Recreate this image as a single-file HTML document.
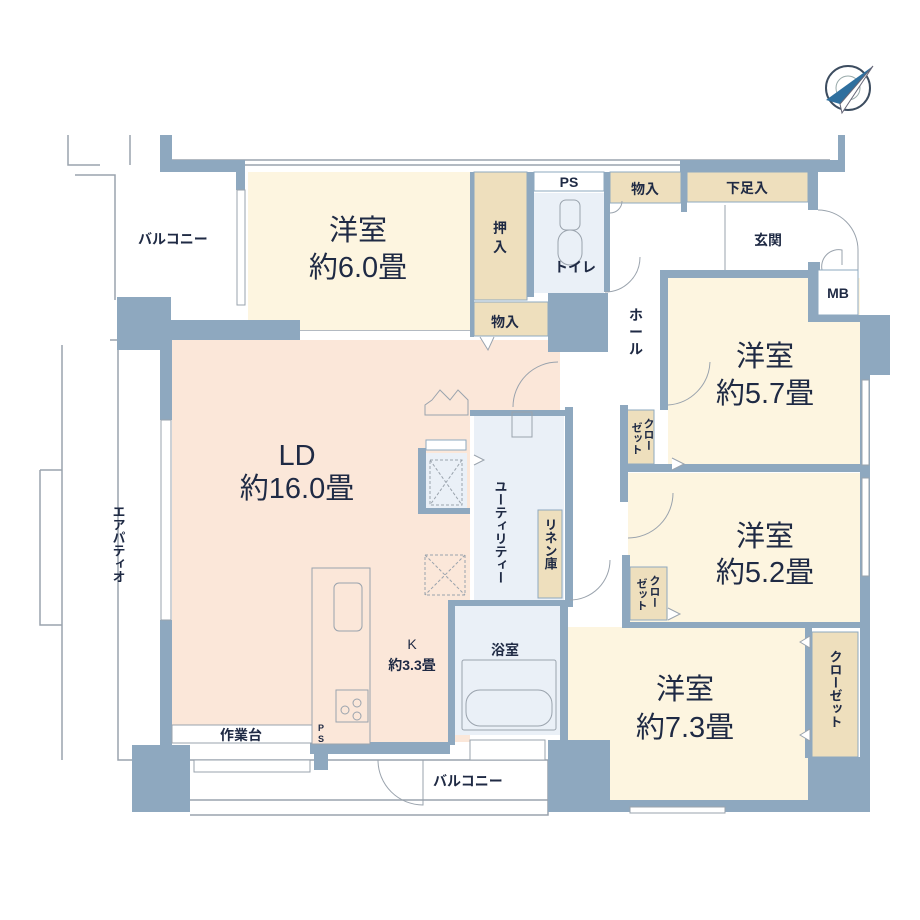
<!DOCTYPE html>
<html><head><meta charset="utf-8"><style>
html,body{margin:0;padding:0;background:#fff;width:920px;height:920px;overflow:hidden}
svg{display:block}
text{font-family:"Liberation Serif","Noto Serif CJK SC","Noto Sans CJK JP",serif;fill:#1f2a44}
.s{font-family:"Liberation Sans","Noto Sans CJK JP",sans-serif;font-size:14px;font-weight:bold}
.b{font-size:29px;font-family:"Liberation Sans","Noto Sans CJK JP",sans-serif}
</style></head><body>
<svg width="920" height="920" viewBox="0 0 920 920" xmlns="http://www.w3.org/2000/svg">
<g fill="none" stroke="#9aa3ad" stroke-width="1.5">
<path d="M68 135V165H100M130 135V165"/>
<path d="M75 175H115V300"/><path d="M110 340H160M118 340V760H160"/>
<path d="M40 470V625H62M40 470H62"/>
<path d="M62 345V760M172 160H830M172 165H830"/>
<path d="M190 760H548V815H190M190 800H548"/>
<path d="M248 330H470"/>
</g>
<rect x="248" y="172" width="222" height="158" fill="#fdf5e0"/>
<rect x="172" y="340" width="298" height="402" fill="#fbe7d9"/>
<rect x="470" y="340" width="90" height="75" fill="#fbe7d9"/>
<rect x="668" y="278" width="192" height="189" fill="#fdf5e0"/>
<rect x="628" y="473" width="232" height="152" fill="#fdf5e0"/>
<rect x="568" y="627" width="242" height="180" fill="#fdf5e0"/>
<rect x="474" y="415" width="90" height="185" fill="#eaf0f7"/>
<rect x="455" y="605" width="110" height="130" fill="#eaf0f7"/>
<rect x="534" y="193" width="70" height="100" fill="#eaf0f7"/>
<rect x="425" y="453" width="42" height="57" fill="#eaf0f7"/>
<g fill="#eedfbd" stroke="#8ea8bf" stroke-width="1">
<rect x="474" y="172" width="53" height="128"/>
<rect x="474" y="302" width="74" height="34"/>
<rect x="610" y="172" width="71" height="31"/>
<rect x="687" y="172" width="121" height="30"/>
<rect x="627" y="410" width="27" height="54"/>
<rect x="630" y="567" width="37" height="53"/>
<rect x="812" y="632" width="46" height="125"/>
<rect x="538" y="510" width="24" height="88"/>
</g>
<g fill="#8ea8bf">
<path d="M160 135H172V160H245V190H236V172H160Z"/>
<path d="M117 297H171V320H300V340H172V420H160V350H117Z"/>
<rect x="160" y="620" width="12" height="125"/>
<rect x="132" y="745" width="58" height="67"/>
<rect x="470" y="172" width="4" height="165"/>
<rect x="527" y="172" width="7" height="125"/>
<rect x="604" y="172" width="6" height="120"/>
<rect x="548" y="293" width="60" height="59"/>
<rect x="680" y="160" width="138" height="12"/>
<rect x="681" y="172" width="6" height="40"/>
<rect x="808" y="160" width="10" height="50"/>
<rect x="838" y="135" width="7" height="37"/><rect x="818" y="160" width="27" height="12"/>
<rect x="808" y="262" width="12" height="60"/>
<path d="M808 305H835V315H890V375H860V322H808Z"/>
<rect x="660" y="270" width="160" height="8"/>
<rect x="660" y="270" width="8" height="140"/>
<rect x="620" y="405" width="8" height="62"/>
<rect x="620" y="464" width="245" height="8"/>
<rect x="620" y="472" width="8" height="30"/>
<rect x="622" y="555" width="8" height="72"/>
<rect x="622" y="622" width="245" height="6"/>
<rect x="860" y="375" width="10" height="437"/>
<rect x="808" y="757" width="62" height="55"/>
<rect x="805" y="628" width="7" height="130"/>
<rect x="565" y="407" width="8" height="200"/>
<rect x="470" y="410" width="100" height="6"/>
<rect x="448" y="600" width="120" height="6"/>
<rect x="448" y="605" width="7" height="140"/>
<rect x="560" y="605" width="8" height="150"/>
<rect x="548" y="740" width="62" height="72"/>
<rect x="568" y="800" width="240" height="12"/>
<rect x="418" y="448" width="8" height="65"/>
<rect x="418" y="508" width="52" height="6"/>
<rect x="310" y="742" width="140" height="12"/>
<rect x="314" y="715" width="14" height="55"/>
</g>
<g fill="#fff" stroke="#9aa3ad" stroke-width="1">
<rect x="237" y="190" width="8" height="115"/>
<rect x="161" y="420" width="10" height="200"/>
<rect x="194" y="760" width="116" height="12"/>
<rect x="862" y="380" width="7" height="85"/>
<rect x="862" y="478" width="7" height="98"/>
<rect x="630" y="807" width="95" height="6"/>
<rect x="470" y="740" width="75" height="20"/>
</g>
<g fill="none" stroke="#9aa3ad" stroke-width="1">
<rect x="312" y="568" width="58" height="176" fill="#fbe7d9"/>
<rect x="334" y="583" width="28" height="48" rx="5"/>
<rect x="336" y="690" width="32" height="32"/>
<circle cx="345" cy="710" r="4"/><circle cx="357" cy="703" r="4"/><circle cx="357" cy="716" r="4"/>
<rect x="172" y="725" width="140" height="18" fill="#fff"/>
<rect x="425" y="555" width="40" height="40" stroke-dasharray="3,2"/>
<path d="M425 555L465 595M465 555L425 595" stroke-dasharray="3,2"/>
<rect x="430" y="460" width="32" height="45" stroke-dasharray="3,2"/>
<path d="M430 460L462 505M462 460L430 505" stroke-dasharray="3,2"/>
<rect x="462" y="660" width="94" height="70" rx="2"/>
<rect x="466" y="690" width="86" height="36" rx="14"/>
<rect x="512" y="412" width="20" height="25"/>
<rect x="560" y="200" width="20" height="30" rx="6"/><rect x="558" y="230" width="24" height="35" rx="12"/>
<path d="M605 292A35 35 0 0 0 640 257"/>
<path d="M513 407A45 45 0 0 1 558 362"/>
<path d="M570 600A40 40 0 0 0 610 560"/>
<path d="M668 405A45 45 0 0 0 710 362"/>
<path d="M628 538A45 45 0 0 0 673 493"/>
<path d="M378 760A45 45 0 0 0 423 805V760"/>
<path d="M818 210A40 40 0 0 1 858 250V270M822 270A17 17 0 0 1 842 250V265"/>
<path d="M725 205V270M610 213A12 12 0 0 0 622 201"/>
<path d="M432 400L440 390L450 400L458 390L468 400V415H425V405Z"/>
</g>
<g fill="#fff" stroke="#9aa3ad" stroke-width="1">
<path d="M480 337L488 350L494 337"/><path d="M672 458L684 464L672 470"/><path d="M668 608L680 614L668 620"/>
<path d="M800 642L810 636V648Z"/><path d="M800 735L810 729V741Z"/><path d="M474 455L484 460L474 465"/>
</g>
<rect x="534" y="172" width="70" height="19" fill="#fff" stroke="#8ea8bf"/>
<rect x="818" y="270" width="40" height="45" fill="#fff" stroke="#8ea8bf"/>
<rect x="426" y="440" width="40" height="10" fill="#fff" stroke="#8ea8bf"/>
<g transform="translate(848,88)">
<circle r="22" fill="none" stroke="#3d4d60" stroke-width="2"/>
<circle r="12" fill="none" stroke="#9aa" stroke-width="1"/>
<path d="M25 -22L-22 12L-8 16Z" fill="#2f6f9e"/><path d="M25 -22L-8 16L-6 25Z" fill="#fff" stroke="#667"/>
</g>
<text class="b" x="358" y="240" text-anchor="middle">洋室</text>
<text class="b" x="358" y="277" text-anchor="middle">約6.0畳</text>
<text class="b" x="297" y="465" text-anchor="middle">LD</text>
<text class="b" x="297" y="498" text-anchor="middle">約16.0畳</text>
<text class="b" x="765" y="366" text-anchor="middle">洋室</text>
<text class="b" x="765" y="403" text-anchor="middle">約5.7畳</text>
<text class="b" x="765" y="546" text-anchor="middle">洋室</text>
<text class="b" x="765" y="582" text-anchor="middle">約5.2畳</text>
<text class="b" x="685" y="699" text-anchor="middle">洋室</text>
<text class="b" x="685" y="737" text-anchor="middle">約7.3畳</text>
<text class="s" x="412" y="649" text-anchor="middle" style="font-weight:normal">K</text>
<text class="s" x="412" y="670" text-anchor="middle">約3.3畳</text>
<text class="s" x="138" y="244">バルコニー</text>
<text class="s" x="433" y="786">バルコニー</text>
<text class="s" x="220" y="740">作業台</text>
<text class="s" x="505" y="327" text-anchor="middle">物入</text>
<text class="s" x="645" y="194" text-anchor="middle">物入</text>
<text class="s" x="747" y="193" text-anchor="middle">下足入</text>
<text class="s" x="768" y="245" text-anchor="middle">玄関</text>
<text class="s" x="838" y="298" text-anchor="middle">MB</text>
<text class="s" x="569" y="187" text-anchor="middle">PS</text>
<text class="s" x="575" y="272" text-anchor="middle">トイレ</text>
<text class="s" x="500" y="233" text-anchor="middle">押</text><text class="s" x="500" y="252" text-anchor="middle">入</text>
<text class="s" x="636" y="320" text-anchor="middle">ホ</text><text class="s" x="636" y="337" text-anchor="middle">ー</text><text class="s" x="636" y="354" text-anchor="middle">ル</text>
<text class="s" x="505" y="655" text-anchor="middle">浴室</text>
<text class="s" x="500" y="480" style="writing-mode:vertical-rl;font-size:13px">ユーティリティー</text>
<text class="s" x="550" y="518" style="writing-mode:vertical-rl;font-size:13px">リネン庫</text>
<text class="s" x="835" y="650" style="writing-mode:vertical-rl;font-size:13px">クローゼット</text>
<text class="s" x="118" y="505" style="writing-mode:vertical-rl;font-size:13px">エアパティオ</text>
<text class="s" x="648" y="418" style="writing-mode:vertical-rl;font-size:11px">クロー</text>
<text class="s" x="636" y="422" style="writing-mode:vertical-rl;font-size:11px">ゼット</text>
<text class="s" x="654" y="575" style="writing-mode:vertical-rl;font-size:11px">クロー</text>
<text class="s" x="641" y="578" style="writing-mode:vertical-rl;font-size:11px">ゼット</text>
<text class="s" x="321" y="731" text-anchor="middle" style="font-size:9px">P</text>
<text class="s" x="321" y="742" text-anchor="middle" style="font-size:9px">S</text>
</svg>
</body></html>
